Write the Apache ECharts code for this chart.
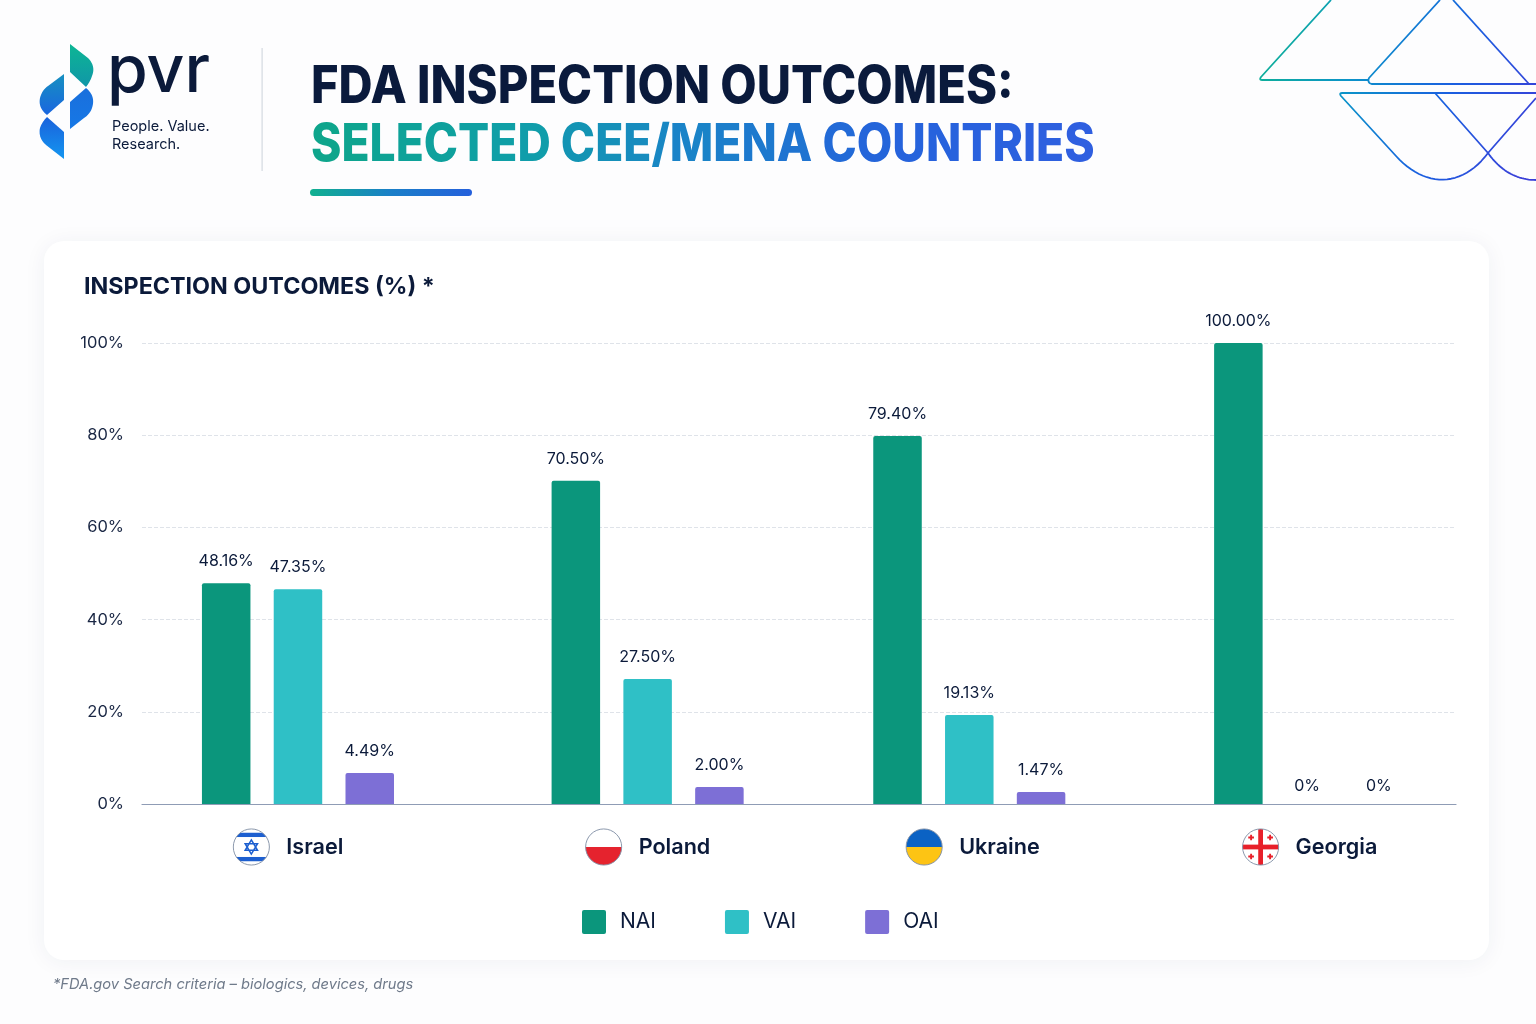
<!DOCTYPE html>
<html>
<head>
<meta charset="utf-8">
<style>html,body{margin:0;padding:0;background:#fdfdfe}#c{width:1536px;height:1024px}</style>
<script src="https://cdn.jsdelivr.net/npm/echarts@6/dist/echarts.min.js"></script>
</head>
<body>
<div id="c"></div>
<script>
const countries = ['Israel', 'Poland', 'Ukraine', 'Georgia'];
const yTicks = [0, 20, 40, 60, 80, 100];
const nai = [47.9, 70.1, 79.8, 100];
const vai = [46.6, 27.1, 19.3, 0];
const oai = [6.7, 3.7, 2.6, 0];
const naiLabels = ['48.16%', '70.50%', '79.40%', '100.00%'];
const vaiLabels = ['47.35%', '27.50%', '19.13%', '0%'];
const oaiLabels = ['4.49%', '2.00%', '1.47%', '0%'];
// position of each country group along the horizontal axis (0-100)
const groupPositions = [11.87, 38.48, 62.96, 88.9];
const labelPositions = [11.1, 38.47, 63.2, 88.85];

const INK = '#0b1a3a';
const FONT = 'Inter';
const flagSvg = {
  Israel: '<rect width="40" height="40" fill="#fff"/><rect y="5" width="40" height="4.5" fill="#1d5fd0"/><rect y="30.5" width="40" height="4.5" fill="#1d5fd0"/><path d="M20 12.5l6.5 11h-13zM20 27.5l-6.5-11h13z" fill="none" stroke="#1d5fd0" stroke-width="1.6"/>',
  Poland: '<rect width="40" height="20" fill="#fff"/><rect y="20" width="40" height="20" fill="#e5232e"/>',
  Ukraine: '<rect width="40" height="20" fill="#0b62c4"/><rect y="20" width="40" height="20" fill="#fdc414"/>',
  Georgia: '<rect width="40" height="40" fill="#fff"/><rect x="17.5" width="5" height="40" fill="#e8202a"/><rect y="17.5" width="40" height="5" fill="#e8202a"/><path d="M10 7v6M7 10h6M30 7v6M27 10h6M10 27v6M7 30h6M30 27v6M27 30h6" stroke="#e8202a" stroke-width="2"/>'
};
function flagUri(name) {
  const svg = '<svg xmlns="http://www.w3.org/2000/svg" width="80" height="80" viewBox="0 0 40 40"><defs><clipPath id="a"><circle cx="20" cy="20" r="19"/></clipPath></defs><g clip-path="url(#a)">' +
    flagSvg[name] + '</g><circle cx="20" cy="20" r="19" fill="none" stroke="#8592a8" stroke-width="1"/></svg>';
  return 'data:image/svg+xml;charset=utf-8,' + encodeURIComponent(svg);
}
const rich = { name: { fontFamily: FONT, fontSize: 21.6, fontWeight: 600, color: INK, padding: [0, 0, 0, 16] } };
countries.forEach(n => { rich['f' + n] = { width: 38, height: 38, backgroundColor: { image: flagUri(n) } }; });

function barSeries(name, values, labels, color) {
  return {
    name, type: 'bar', barWidth: 48.5, barGap: '48%',
    data: values.map((v, i) => v === 0
      ? { value: [groupPositions[i], v], label: { distance: 10, offset: [-3, 0] } }
      : { value: [groupPositions[i], v] }),
    itemStyle: { color, borderRadius: [2, 2, 0, 0] },
    label: {
      show: true, position: 'top', distance: 14,
      fontFamily: FONT, fontSize: 16, color: INK,
      formatter: p => labels[p.dataIndex]
    }
  };
}
const grad = (x, y, x2, y2, stops) => ({ type: 'linear', x, y, x2, y2, global: false,
  colorStops: stops.map((c, i) => ({ offset: i / (stops.length - 1), color: c })) });
const gradAbs = (x, y, x2, y2, stops) => ({ type: 'linear', x, y, x2, y2, global: true,
  colorStops: stops.map((c, i) => ({ offset: i / (stops.length - 1), color: c })) });

// flatten a small M/L/Q/C outline into points for the decorative polygons and polylines
function outline(d) {
  const t = d.match(/[MLQCZ]|-?[\d.]+/g); const pts = []; let i = 0, cx = 0, cy = 0;
  const n = () => parseFloat(t[i++]);
  while (i < t.length) {
    const c = t[i++];
    if (c === 'M' || c === 'L') { cx = n(); cy = n(); pts.push([cx, cy]); }
    else if (c === 'Q') { const a = n(), b = n(), e = n(), f = n();
      for (let k = 1; k <= 16; k++) { const u = k / 16, v = 1 - u; pts.push([v*v*cx + 2*v*u*a + u*u*e, v*v*cy + 2*v*u*b + u*u*f]); }
      cx = e; cy = f; }
    else if (c === 'C') { const a = n(), b = n(), g = n(), h = n(), e = n(), f = n();
      for (let k = 1; k <= 24; k++) { const u = k / 24, v = 1 - u; pts.push([v*v*v*cx + 3*v*v*u*a + 3*v*u*u*g + u*u*u*e, v*v*v*cy + 3*v*v*u*b + 3*v*u*u*h + u*u*u*f]); }
      cx = e; cy = f; }
  }
  return pts;
}
const shapeFill = (d, fill) => ({ type: 'polygon', shape: { points: outline(d) }, style: { fill } });
const decoStroke = gradAbs(1260, 40, 1536, 140, ['#0fb294', '#0b93c9', '#1a5fe0', '#3a3fd8']);
const deco = d => ({ type: 'polyline', shape: { points: outline(d) }, style: { fill: 'none', stroke: decoStroke, lineWidth: 1.8, lineJoin: 'round' } });

// headline colour ramp: text fills cannot take a gradient, so each letter gets its own colour
const titleLine2 = 'SELECTED CEE/MENA COUNTRIES';
const rampStops = [[14, 165, 140], [15, 159, 168], [26, 131, 200], [37, 99, 220], [47, 95, 224]];
function rampAt(t) {
  const s = t * (rampStops.length - 1), a = Math.min(Math.floor(s), rampStops.length - 2), f = s - a;
  const c = rampStops[a].map((v, i) => Math.round(v + (rampStops[a + 1][i] - v) * f));
  return 'rgb(' + c.join(',') + ')';
}
const line2Rich = {};
const line2Text = titleLine2.split('').map((ch, i) => {
  line2Rich['c' + i] = { fill: rampAt(i / (titleLine2.length - 1)), font: '800 52px Inter' };
  return '{c' + i + '|' + ch + '}';
}).join('');

const graphics = [
  { type: 'rect', z: -10, shape: { x: 44, y: 241, width: 1445, height: 719, r: 20 },
    style: { fill: '#ffffff', shadowBlur: 22, shadowColor: 'rgba(30,50,90,0.06)', shadowOffsetY: 2 } },
  // logo
  shapeFill('M70 44L88 58Q96 66 92 76Q90 82 86 87L70 72Z', grad(0, 0, 0, 1, ['#0db694', '#1096a8'])),
  shapeFill('M86 88Q96 96 92 108Q90 114 84 118L70 129L70 102Z', grad(0, 0, 0, 1, ['#1a6fdc', '#1678e6'])),
  shapeFill('M64 74L64 100L47 115Q38 108 40 98Q42 90 48 86Z', grad(0, 0, 0, 1, ['#1690c0', '#1a66e0'])),
  shapeFill('M47 117L64 132L64 159L46 145Q38 138 40 128Q42 122 47 117Z', grad(0, 0, 0, 1, ['#1a62dc', '#1496f0'])),
  { type: 'text', style: { x: 107, y: 72, text: 'pvr', font: '500 66px Inter', fill: INK, textVerticalAlign: 'middle' } },
  { type: 'text', style: { x: 112, y: 127, text: 'People. Value.', font: '400 14.5px Inter', fill: INK, textVerticalAlign: 'middle' } },
  { type: 'text', style: { x: 112, y: 145, text: 'Research.', font: '400 14.5px Inter', fill: INK, textVerticalAlign: 'middle' } },
  { type: 'rect', shape: { x: 261.5, y: 48, width: 1.2, height: 123 }, style: { fill: '#d3d9e0' } },
  // headline
  { type: 'text', x: 311, y: 87, scaleX: 0.906, style: { x: 0, y: 0, text: 'FDA INSPECTION OUTCOMES:', font: '800 52px Inter', fill: '#0a1a3c', textVerticalAlign: 'middle' } },
  { type: 'text', x: 311, y: 145, scaleX: 0.887, style: { x: 0, y: 0, text: line2Text, rich: line2Rich, font: '800 52px Inter', textVerticalAlign: 'middle' } },
  { type: 'rect', shape: { x: 310, y: 189, width: 162, height: 7, r: 3.5 }, style: { fill: grad(0, 0, 1, 0, ['#10b08f', '#1a7fc8', '#2560dc']) } },
  // decoration
  deco('M1331 0L1261 77Q1259 80 1262 80L1368 80'),
  deco('M1440 0L1369 78Q1367 83 1372 84L1536 84'),
  deco('M1453 0L1529 84'),
  deco('M1536 93L1342 93Q1339 93 1341 96L1396 156C1425 188 1462 188 1488 153L1536 98'),
  deco('M1435 93L1488 153C1500 170 1516 180 1536 180'),
  // card heading and footnote
  { type: 'text', style: { x: 84, y: 287, text: 'INSPECTION OUTCOMES (%) *', font: '700 23.3px Inter', fill: INK, textVerticalAlign: 'middle' } },
  { type: 'text', style: { x: 53, y: 985, text: '*FDA.gov Search criteria \u2013 biologics, devices, drugs', font: 'italic 400 14.65px Inter', fill: '#6f7a8a', textVerticalAlign: 'middle' } }
];

const chart = echarts.init(document.getElementById('c'), null, { renderer: 'canvas', width: 1536, height: 1024 });
chart.setOption({
  animation: false,
  backgroundColor: '#fdfdfe',
  textStyle: { fontFamily: FONT },
  grid: { left: 142, right: 80, top: 343, bottom: 220, containLabel: false },
  xAxis: {
    type: 'value', min: 0, max: 100,
    axisLine: { show: true, onZero: false, lineStyle: { color: '#8f9cb5', width: 1.2 } },
    axisTick: { show: false },
    splitLine: { show: false },
    axisLabel: {
      customValues: labelPositions,
      margin: 24, rich, interval: 0, hideOverlap: false,
      showMinLabel: true, showMaxLabel: true,
      formatter: v => { const n = countries[labelPositions.indexOf(v)]; return n ? '{f' + n + '|}{name|' + n + '}' : ''; }
    }
  },
  yAxis: {
    type: 'value', min: yTicks[0], max: yTicks[yTicks.length - 1], interval: 20,
    axisLine: { show: false }, axisTick: { show: false },
    splitLine: { show: true, lineStyle: { color: '#dfe3e9', type: 'dashed', width: 1 } },
    axisLabel: { margin: 18, fontFamily: FONT, fontSize: 16.5, color: '#1a2744', formatter: '{value}%' }
  },
  legend: {
    left: 577, top: 905, itemWidth: 24, itemHeight: 24, itemGap: 69,
    icon: 'path://M2 0H22Q24 0 24 2V22Q24 24 22 24H2Q0 24 0 22V2Q0 0 2 0Z',
    textStyle: { fontFamily: FONT, fontSize: 21, color: INK, padding: [0, 0, 0, 9] },
    data: ['NAI', 'VAI', 'OAI']
  },
  series: [
    barSeries('NAI', nai, naiLabels, '#0b967c'),
    barSeries('VAI', vai, vaiLabels, '#2fc0c6'),
    barSeries('OAI', oai, oaiLabels, '#7d6fd6')
  ],
  graphic: graphics
});
</script>
</body>
</html>
